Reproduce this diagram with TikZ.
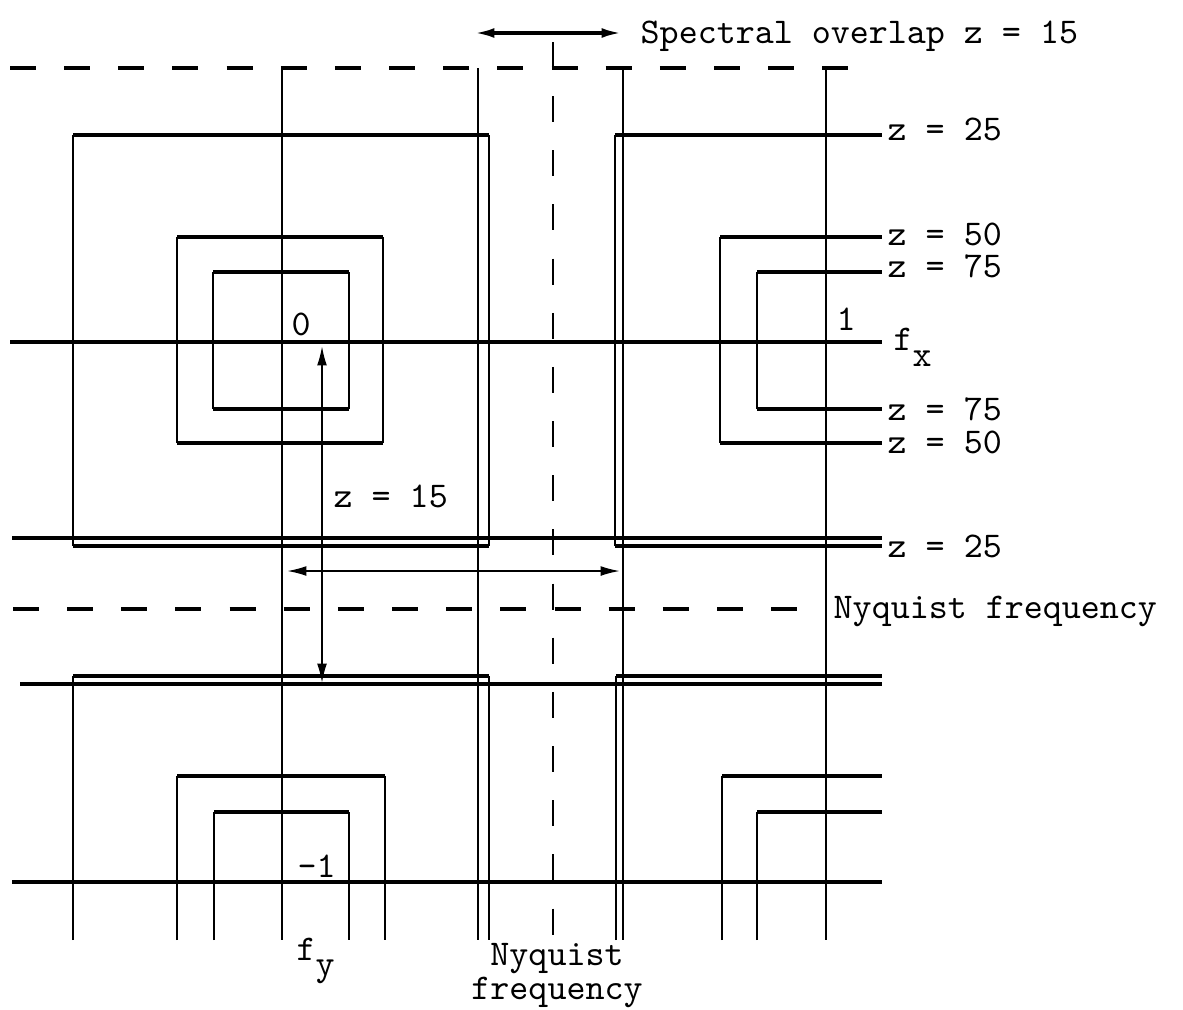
\documentclass[tikz,border=0pt]{standalone}
\usetikzlibrary{arrows.meta}
\tikzset{
    hl/.style={line width=0.9pt},
    vl/.style={line width=0.55pt},
    nyq/.style={line width=0.9pt, dash pattern=on 7.4pt off 8pt},
    lbl/.style={font=\fontsize{10.3}{12}\selectfont\ttfamily, inner sep=0pt, anchor=base west},
}
\begin{document}
\begin{tikzpicture}[x=0.01cm, y=-0.01cm, >={Latex[length=5.5pt,width=2.8pt]}]
        \useasboundingbox (0,0) rectangle (1183,1009);
        \foreach \x in {282,478,623,826}
            \draw[vl] (\x,68) -- (\x,940);
        \draw[nyq] (10,68) -- (864,68);
        \draw[nyq] (13,609) -- (805,609);
        \draw[nyq, line width=0.65pt] (553,42) -- (553,940);
        \foreach \y/\a in {342/10, 538/12, 684/20, 882/12}
            \draw[hl] (\a,\y) -- (882,\y);
        \foreach \l/\t/\r/\b in {73/135/489/546, 177/237/383/443, 213/272/349/409} {
            \draw[vl] (\l,\t) -- (\l,\b) (\r,\t) -- (\r,\b);
            \draw[hl] (\l,\t) -- (\r,\t) (\l,\b) -- (\r,\b);
        }
        \foreach \l/\t/\b in {615/135/546, 720/237/443, 757/272/409} {
            \draw[vl] (\l,\t) -- (\l,\b);
            \draw[hl] (\l,\t) -- (882,\t) (\l,\b) -- (882,\b);
        }
        \foreach \l/\t/\r in {73/676/489, 177/776/385, 214/812/349} {
            \draw[vl] (\l,940) -- (\l,\t) (\r,\t) -- (\r,940);
            \draw[hl] (\l,\t) -- (\r,\t);
        }
        \foreach \l/\t in {616/676, 722/776, 757/812} {
            \draw[vl] (\l,940) -- (\l,\t);
            \draw[hl] (\l,\t) -- (882,\t);
        }
        \coordinate (sl) at (475,33);
        \coordinate (sr) at (621,33);
        \coordinate (wl) at (287,571);
        \coordinate (wr) at (620,571);
        \coordinate (vt) at (322,346);
        \coordinate (vb) at (322,683);
        \draw[hl,<->] (sl) -- (sr);
        \draw[vl,<->] (wl) -- (wr);
        \draw[vl,<->] (vt) -- (vb);
        \node[lbl] (spec) at (640,43) {Spectral overlap z = 15};
        \node[lbl] (z25a) at (887,140) {z = 25};
        \node[lbl] (z50a) at (887,245) {z = 50};
        \node[lbl] (z75a) at (887,277) {z = 75};
        \node[lbl] (zero) at (291,335) {0};
        \node[lbl] (one) at (836,330) {1};
        \node[lbl] (fx) at (893,350) {f\raisebox{-4.8pt}{x}};
        \node[lbl] (z75b) at (887,420) {z = 75};
        \node[lbl] (z50b) at (887,453) {z = 50};
        \node[lbl] (z15) at (333,507) {z = 15};
        \node[lbl] (z25b) at (887,557) {z = 25};
        \node[lbl] (nyqr) at (833,618) {Nyquist frequency};
        \node[lbl] (mone) at (297,877) {-1};
        \node[lbl] (fy) at (296,960) {f\raisebox{-4.3pt}{y}};
        \node[lbl, anchor=base] (nyqb) at (557,965) {Nyquist};
        \node[lbl, anchor=base] (freqb) at (557,999) {frequency};
\end{tikzpicture}
\end{document}
